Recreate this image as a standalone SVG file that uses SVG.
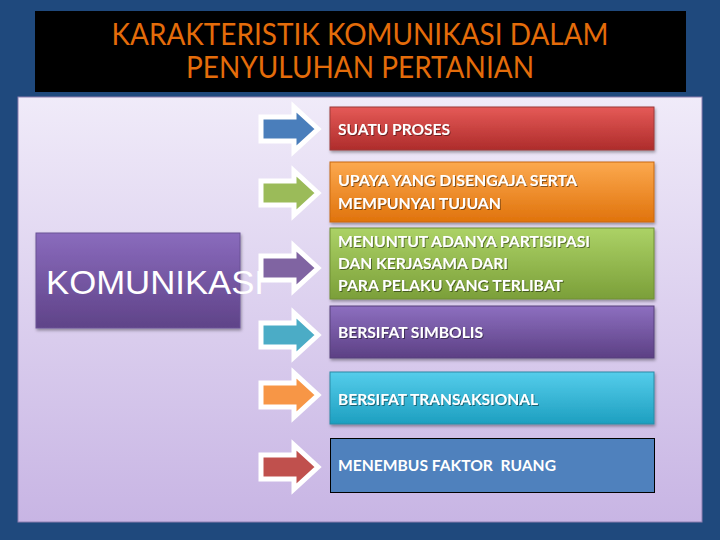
<svg xmlns="http://www.w3.org/2000/svg" width="720" height="540" viewBox="0 0 720 540">
<defs>
<linearGradient id="gPanel" x1="0" y1="0" x2="0" y2="1"><stop offset="0" stop-color="#f0ebf9"/><stop offset="1" stop-color="#c8b5e4"/></linearGradient>
<linearGradient id="gKom" x1="0" y1="0" x2="0" y2="1"><stop offset="0" stop-color="#8a6bbd"/><stop offset="1" stop-color="#5f4388"/></linearGradient>
<linearGradient id="gRed" x1="0" y1="0" x2="0" y2="1"><stop offset="0" stop-color="#e55a57"/><stop offset="1" stop-color="#ae2c2b"/></linearGradient>
<linearGradient id="gOrange" x1="0" y1="0" x2="0" y2="1"><stop offset="0" stop-color="#fca94f"/><stop offset="1" stop-color="#e0730c"/></linearGradient>
<linearGradient id="gGreen" x1="0" y1="0" x2="0" y2="1"><stop offset="0" stop-color="#acd266"/><stop offset="1" stop-color="#7b9f39"/></linearGradient>
<linearGradient id="gPurple" x1="0" y1="0" x2="0" y2="1"><stop offset="0" stop-color="#8d6fc0"/><stop offset="1" stop-color="#5c4084"/></linearGradient>
<linearGradient id="gTeal" x1="0" y1="0" x2="0" y2="1"><stop offset="0" stop-color="#55cdeb"/><stop offset="1" stop-color="#1d9fc0"/></linearGradient>
<filter id="sh" x="-5%" y="-10%" width="110%" height="130%"><feDropShadow dx="1" dy="2" stdDeviation="1.5" flood-color="#000" flood-opacity="0.35"/></filter>
<filter id="tsh" x="-5%" y="-20%" width="110%" height="150%"><feDropShadow dx="1" dy="1" stdDeviation="0.6" flood-color="#000" flood-opacity="0.45"/></filter>
<path id="arr" d="M0,-12 H33 V-22 L57,0 L33,22 V12 H0 Z"/>
</defs>
<style>
.title{font-family:Lato,"Liberation Sans",sans-serif;font-size:30px;fill:#e46c0a;text-anchor:middle}
.lbl{font-family:Lato,"Liberation Sans",sans-serif;font-weight:bold;font-size:14.5px;fill:#ffffff}
.box{stroke-width:1}
.arrow use{stroke:#ffffff;stroke-width:5;stroke-linejoin:miter}
</style>
<rect x="0" y="0" width="720" height="540" fill="#1f497d"/>
<g id="title">
<rect x="35" y="11" width="651" height="81" fill="#000000"/>
<text class="title" x="360" y="45" textLength="497" lengthAdjust="spacingAndGlyphs">KARAKTERISTIK KOMUNIKASI DALAM</text>
<text class="title" x="360" y="78" textLength="348" lengthAdjust="spacingAndGlyphs">PENYULUHAN PERTANIAN</text>
</g>
<rect x="18" y="97" width="684" height="425" fill="url(#gPanel)" stroke="#8c7fb0" stroke-width="1"/>
<g id="komunikasi">
<rect x="36" y="233" width="204" height="95" fill="url(#gKom)" stroke="#6a5296" stroke-width="1" filter="url(#sh)"/>
<text x="46" y="294" font-family="'Liberation Sans',Arial,sans-serif" font-size="34" fill="#ffffff" textLength="218" lengthAdjust="spacingAndGlyphs">KOMUNIKASI</text>
</g>
<g id="connectors" class="arrow">
<use href="#arr" transform="translate(261,129)" fill="#4a7ebb"/>
<use href="#arr" transform="translate(261,193)" fill="#9bbb59"/>
<use href="#arr" transform="translate(261,268)" fill="#8064a2"/>
<use href="#arr" transform="translate(261,335)" fill="#4bacc6"/>
<use href="#arr" transform="translate(261,395)" fill="#f79646"/>
<use href="#arr" transform="translate(261,467)" fill="#c0504d"/>
</g>
<g id="n1">
<rect x="330" y="107" width="324" height="43" fill="url(#gRed)" stroke="#9c3a38" filter="url(#sh)"/>
<text class="lbl" x="338" y="135" filter="url(#tsh)" textLength="112" lengthAdjust="spacingAndGlyphs">SUATU PROSES</text>
</g>
<g id="n2">
<rect x="330" y="162" width="324" height="60" fill="url(#gOrange)" stroke="#c8690f" filter="url(#sh)"/>
<text class="lbl" x="338" y="186" filter="url(#tsh)" textLength="239" lengthAdjust="spacingAndGlyphs">UPAYA YANG DISENGAJA SERTA</text>
<text class="lbl" x="338" y="209" filter="url(#tsh)" textLength="163" lengthAdjust="spacingAndGlyphs">MEMPUNYAI TUJUAN</text>
</g>
<g id="n3">
<rect x="330" y="228" width="324" height="71" fill="url(#gGreen)" stroke="#6f8e35" filter="url(#sh)"/>
<text class="lbl" x="338" y="247" filter="url(#tsh)" textLength="252" lengthAdjust="spacingAndGlyphs">MENUNTUT ADANYA PARTISIPASI</text>
<text class="lbl" x="338" y="269" filter="url(#tsh)" textLength="170" lengthAdjust="spacingAndGlyphs">DAN KERJASAMA DARI</text>
<text class="lbl" x="338" y="291" filter="url(#tsh)" textLength="225" lengthAdjust="spacingAndGlyphs">PARA PELAKU YANG TERLIBAT</text>
</g>
<g id="n4">
<rect x="330" y="306" width="324" height="52" fill="url(#gPurple)" stroke="#56407a" filter="url(#sh)"/>
<text class="lbl" x="338" y="338" filter="url(#tsh)" textLength="145" lengthAdjust="spacingAndGlyphs">BERSIFAT SIMBOLIS</text>
</g>
<g id="n5">
<rect x="330" y="372" width="324" height="52" fill="url(#gTeal)" stroke="#2a8aa5" filter="url(#sh)"/>
<text class="lbl" x="338" y="405" filter="url(#tsh)" textLength="200" lengthAdjust="spacingAndGlyphs">BERSIFAT TRANSAKSIONAL</text>
</g>
<g id="n6">
<rect x="330.5" y="438.5" width="324" height="54" fill="#4f81bd" stroke="#000000" stroke-width="1"/>
<text class="lbl" x="338" y="471" textLength="218" lengthAdjust="spacingAndGlyphs" xml:space="preserve">MENEMBUS FAKTOR  RUANG</text>
</g>
</svg>
